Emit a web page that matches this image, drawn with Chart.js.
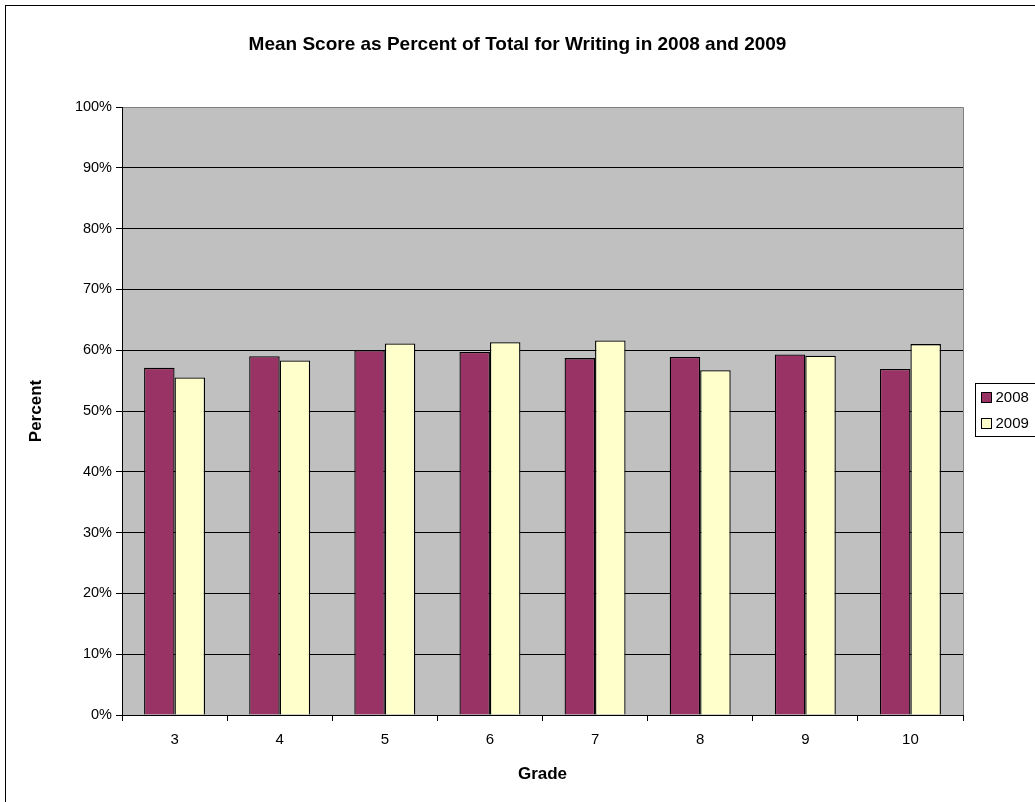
<!DOCTYPE html>
<html>
<head>
<meta charset="utf-8">
<script src="https://cdn.jsdelivr.net/npm/chart.js@4/dist/chart.umd.min.js"></script>
<style>
  html, body { margin: 0; padding: 0; background: #fff; }
  canvas { display: block; }
</style>
</head>
<body>
<canvas id="writingChart" width="1035" height="802"></canvas>
<script>
const grades = ['3', '4', '5', '6', '7', '8', '9', '10'];
const seriesLabels = ['2008', '2009'];
const scores2008 = [57.1, 59.0, 60.0, 59.7, 58.7, 58.9, 59.3, 56.9];
const scores2009 = [55.5, 58.3, 61.1, 61.3, 61.6, 56.7, 59.1, 61.0];
const colors = ['#993366', '#FFFFCC'];
const chartTitle = 'Mean Score as Percent of Total for Writing in 2008 and 2009';

const FONT = '"Liberation Sans", Arial, sans-serif';

// grey plot background, outer frame and the title (centred on the whole chart)
const frame = {
  id: 'frame',
  beforeDraw(chart) {
    const { ctx, chartArea: a } = chart;
    ctx.save();
    ctx.fillStyle = '#fff';
    ctx.fillRect(0, 0, chart.width, chart.height);
    ctx.strokeStyle = '#000';
    ctx.lineWidth = 1;
    ctx.strokeRect(5.5, 5.5, chart.width + 20, chart.height + 20);
    ctx.fillStyle = '#C0C0C0';
    ctx.fillRect(a.left, a.top, a.right - a.left, a.bottom - a.top);
    ctx.strokeStyle = '#808080';
    ctx.beginPath();
    ctx.moveTo(a.left, a.top + 0.5);
    ctx.lineTo(a.right + 0.5, a.top + 0.5);
    ctx.lineTo(a.right + 0.5, a.bottom);
    ctx.stroke();

    ctx.fillStyle = '#000';
    ctx.font = 'bold 19px ' + FONT;
    ctx.textAlign = 'center';
    ctx.textBaseline = 'middle';
    ctx.fillText(chartTitle, chart.width / 2, 45);
    ctx.restore();
  }
};

// boxed legend on the right, centred on the plot
const boxLegend = {
  id: 'boxLegend',
  afterDraw(chart) {
    const { ctx, chartArea: a } = chart;
    const sets = chart.data.datasets;
    const rowH = 26;
    const h = sets.length * rowH + 1;
    const x = a.right + 12.5;
    const y = Math.round((a.top + a.bottom) / 2 - h / 2) - 1.5;
    ctx.save();
    ctx.fillStyle = '#fff';
    ctx.fillRect(x, y, 80, h);
    ctx.strokeStyle = '#000';
    ctx.lineWidth = 1;
    ctx.strokeRect(x, y, 80, h);
    ctx.font = '15px ' + FONT;
    ctx.textBaseline = 'middle';
    sets.forEach((ds, i) => {
      const cy = y + rowH / 2 + i * rowH;
      ctx.fillStyle = ds.backgroundColor;
      ctx.fillRect(x + 6, Math.round(cy - 5) + 0.5, 10, 10);
      ctx.strokeRect(x + 6, Math.round(cy - 5) + 0.5, 10, 10);
      ctx.fillStyle = '#000';
      ctx.fillText(ds.label, x + 20, cy + 1);
    });
    ctx.restore();
  }
};

new Chart(document.getElementById('writingChart'), {
  type: 'bar',
  data: {
    labels: grades,
    datasets: [
      { label: seriesLabels[0], data: scores2008, backgroundColor: colors[0] },
      { label: seriesLabels[1], data: scores2009, backgroundColor: colors[1] }
    ]
  },
  options: {
    responsive: false,
    animation: false,
    devicePixelRatio: 1,
    layout: { padding: { left: 0, top: 107, right: 72, bottom: 0 } },
    datasets: {
      bar: {
        borderColor: '#000',
        borderWidth: 1.3,
        categoryPercentage: 0.58,
        barPercentage: 1
      }
    },
    plugins: {
      legend: { display: false },
      tooltip: { enabled: false },
      title: { display: false }
    },
    scales: {
      x: {
        offset: true,
        grid: {
          offset: true,
          drawOnChartArea: false,
          tickLength: 6,
          tickColor: '#000'
        },
        border: { color: '#000', width: 1 },
        ticks: {
          color: '#000',
          padding: 10,
          font: { family: FONT, size: 15 }
        },
        title: {
          display: true,
          text: 'Grade',
          color: '#000',
          font: { family: FONT, size: 17, weight: 'bold', lineHeight: 1.2 },
          padding: { top: 0, bottom: 17 }
        },
        afterFit(scale) { scale.height = 87; }
      },
      y: {
        min: 0,
        max: 100,
        grid: {
          color: (c) => (c.tick && c.tick.value === 100 ? '#808080' : '#000'),
          tickColor: '#000',
          tickLength: 6
        },
        border: { color: '#000', width: 1 },
        ticks: {
          stepSize: 10,
          color: '#000',
          padding: 4,
          font: { family: FONT, size: 14.5 },
          callback: (v) => v + '%'
        },
        title: {
          display: true,
          text: 'Percent',
          color: '#000',
          font: { family: FONT, size: 17, weight: 'bold', lineHeight: 1.2 },
          padding: { top: 26, bottom: 0 }
        },
        afterFit(scale) { scale.width = 122; }
      }
    }
  },
  plugins: [frame, boxLegend]
});
</script>
</body>
</html>
